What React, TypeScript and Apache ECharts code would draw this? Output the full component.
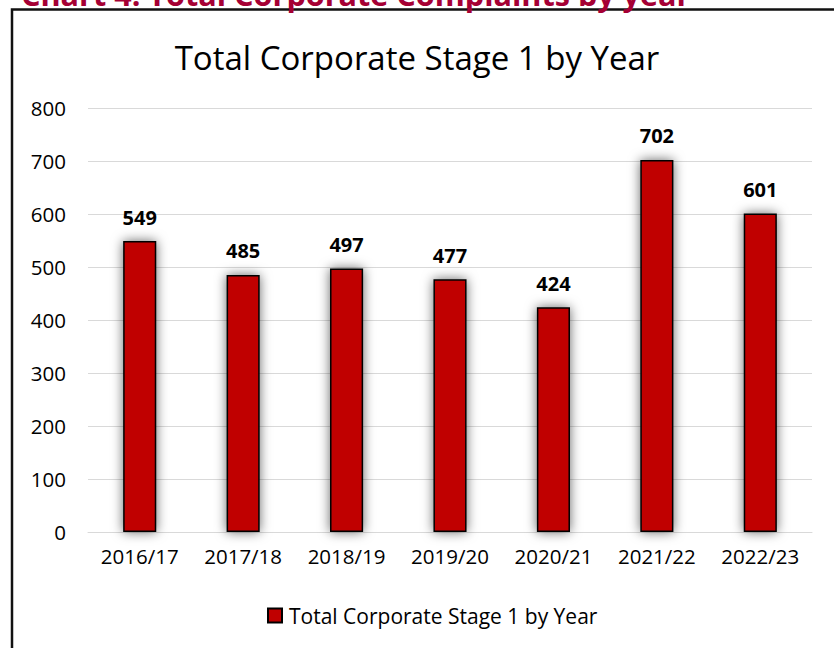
import React, { useEffect, useRef } from "react";
import * as echarts from "echarts";

const categories = ["2016/17", "2017/18", "2018/19", "2019/20", "2020/21", "2021/22", "2022/23"];
const values = [549, 485, 497, 477, 424, 702, 601];
const seriesName = "Total Corporate Stage 1 by Year";
const chartTitle = "Total Corporate Stage 1 by Year";
const heading = "Chart 4: Total Corporate Complaints by year";

export default function App() {
  const ref = useRef<HTMLDivElement>(null);
  useEffect(() => {
    document.body.style.margin = "0";
    const chart = echarts.init(ref.current!, undefined, { renderer: "svg" });
    const font = "'Open Sans', sans-serif";
    chart.setOption({
      animation: false,
      backgroundColor: "#ffffff",
      title: {
        text: chartTitle,
        left: "center",
        top: 36,
        textStyle: { fontFamily: font, fontSize: 33, fontWeight: "normal", color: "#000" },
      },
      graphic: [
        {
          type: "rect",
          shape: { x: 12, y: 9.5, width: 840, height: 660 },
          style: { fill: "none", stroke: "#111", lineWidth: 2.5 },
          silent: true,
        },
        {
          type: "text",
          x: 21,
          y: 9,
          style: {
            text: heading,
            fontFamily: font,
            fontSize: 30.6,
            fontWeight: "bold",
            fill: "#A50034",
            verticalAlign: "bottom",
          },
          silent: true,
        },
      ],
      legend: {
        left: 262,
        top: 600,
        itemWidth: 14,
        itemHeight: 14,
        itemGap: 4,
        icon: "rect",
        textStyle: { fontFamily: font, fontSize: 21, color: "#000", padding: [0, 0, 0, 2] },
        data: [seriesName],
      },
      grid: { left: 88, right: 22, top: 108, bottom: 116 },
      xAxis: {
        type: "category",
        data: categories,
        axisLine: { show: true, lineStyle: { color: "#D9D9D9", width: 1 } },
        axisTick: { show: false },
        axisLabel: { fontFamily: font, fontSize: 20.5, color: "#000", margin: 13 },
      },
      yAxis: {
        type: "value",
        min: 0,
        max: 800,
        interval: 100,
        axisLine: { show: false },
        axisTick: { show: false },
        splitLine: { lineStyle: { color: "#D9D9D9", width: 1 } },
        axisLabel: { fontFamily: font, fontSize: 20.5, color: "#000", margin: 22 },
      },
      series: [
        {
          name: seriesName,
          type: "bar",
          data: values,
          barWidth: "32%",
          itemStyle: {
            color: "#C00000",
            borderColor: "#000",
            borderWidth: 1.5,
            shadowBlur: 12,
            shadowColor: "rgba(0,0,0,0.6)",
            shadowOffsetX: 0,
            shadowOffsetY: 0,
          },
          label: {
            show: true,
            position: "top",
            distance: 14,
            fontFamily: font,
            fontSize: 20,
            fontWeight: "bold",
            color: "#000",
          },
        },
      ],
    });
    return () => chart.dispose();
  }, []);
  return <div ref={ref} style={{ position: "fixed", left: 0, top: 0, width: 834, height: 648 }} />;
}
